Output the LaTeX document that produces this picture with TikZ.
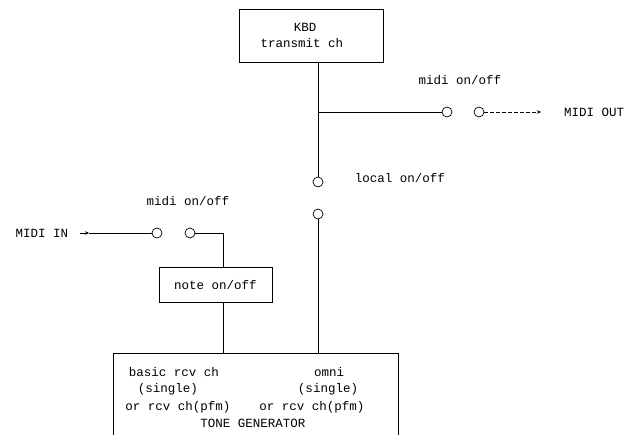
\documentclass[tikz,border=0pt]{standalone}
\usepackage{fontspec}
\setmonofont{Liberation Mono}
\usetikzlibrary{arrows.meta}
\begin{document}
\begin{tikzpicture}[x=1pt,y=-1pt,
  font=\ttfamily\fontsize{12.5}{15}\selectfont,
  line width=0.7pt,
  sw/.style={circle,draw,minimum size=10pt,inner sep=0pt},
  box/.style={draw,rectangle,inner sep=0pt},
  lbl/.style={inner sep=0pt,anchor=center},
  tip/.style={-{Stealth[length=4pt,width=3.5pt]}}]
\useasboundingbox (0,0) rectangle (634,435);
% KBD box
\node[box,minimum width=144pt,minimum height=53pt] (kbd) at (311,35.5) {};
\node[lbl] (kbdt1) at (305,27) {KBD};
\node[lbl] (kbdt2) at (302,43) {transmit ch};
% MIDI out branch
\coordinate (j) at (318,112);
\node[sw] (o1) at (447,112) {};
\node[sw] (o2) at (479,112) {};
\coordinate (oend) at (541,112);
\node[lbl] (mout) at (594,112) {MIDI OUT};
\node[lbl] (mo) at (460,80) {midi on/off};
% local
\node[sw] (l1) at (318,182) {};
\node[sw] (l2) at (318,214) {};
\node[lbl] (loc) at (400,178) {local on/off};
% tone generator box (open at bottom)
\coordinate (tgl) at (113,353);
\coordinate (tgr) at (398,353);
\draw (113,437) -- (tgl) -- (tgr) -- (398,437);
\node[lbl] (t1) at (174,372) {basic rcv ch};
\node[lbl] (t2) at (168,389) {(single)};
\node[lbl] (t3) at (178,407) {or rcv ch(pfm)};
\node[lbl] (t4) at (329,372) {omni};
\node[lbl] (t5) at (328,389) {(single)};
\node[lbl] (t6) at (312,407) {or rcv ch(pfm)};
\node[lbl] (t7) at (253,423) {TONE GENERATOR};
% MIDI in branch
\node[lbl] (min) at (42,233) {MIDI IN};
\coordinate (a0) at (80,233);
\coordinate (a1) at (89,233);
\node[sw] (i1) at (157,233) {};
\node[sw] (i2) at (190,233) {};
\coordinate (c1) at (223,233);
\node[lbl] (mi) at (188,201) {midi on/off};
\node[box,minimum width=113pt,minimum height=35pt] (note) at (215.5,284.5) {};
\node[lbl] (notet) at (215.5,285) {note on/off};
% connectors
\draw (l1.north |- kbd.south) -- (l1);
\draw (j) -- (o1);
\draw[tip,dashed,dash pattern=on 4pt off 2pt] (o2) -- (oend);
\draw (l2) -- (l2 |- tgl);
\draw[tip] (a0) -- (a1);
\draw (a1) -- (i1);
\draw (i2) -- (c1) -- (c1 |- note.north);
\draw (c1 |- note.south) -- (c1 |- tgl);
\end{tikzpicture}
\end{document}
